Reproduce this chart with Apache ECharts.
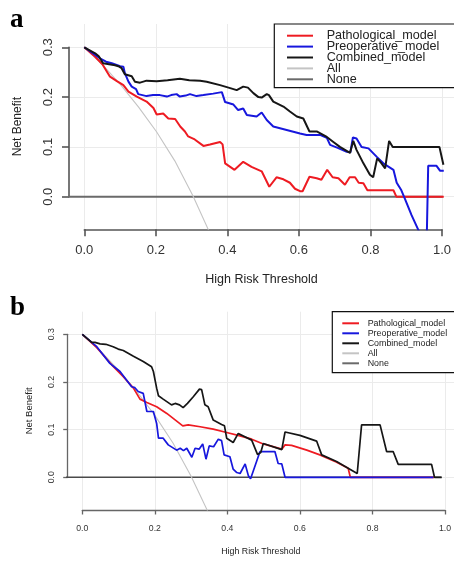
<!DOCTYPE html>
<html>
<head>
<meta charset="utf-8">
<script src="https://cdn.jsdelivr.net/npm/echarts@6/dist/echarts.min.js"></script>
<style>
html, body { margin: 0; padding: 0; background: #fff; }
#chart { width: 454px; height: 561px; }
</style>
</head>
<body>
<div id="chart"></div>
<script>
// ---- data: [threshold, net benefit] ----
var modelNames = ['Pathological_model', 'Preoperative_model', 'Combined_model', 'All', 'None'];
var xTicks = [0, 0.2, 0.4, 0.6, 0.8, 1.0];
var yTicks = [0, 0.1, 0.2, 0.3];

// panel a
var aPathological = [[0,0.3],[0.03,0.281],[0.05,0.266],[0.071,0.241],[0.09,0.232],[0.108,0.224],[0.122,0.211],[0.145,0.201],[0.172,0.191],[0.191,0.178],[0.2,0.165],[0.218,0.167],[0.232,0.157],[0.251,0.156],[0.265,0.141],[0.278,0.131],[0.287,0.121],[0.305,0.115],[0.329,0.102],[0.347,0.105],[0.375,0.110],[0.382,0.105],[0.389,0.067],[0.415,0.054],[0.439,0.070],[0.462,0.060],[0.49,0.051],[0.511,0.020],[0.531,0.039],[0.55,0.035],[0.568,0.028],[0.582,0.016],[0.596,0.011],[0.603,0.011],[0.622,0.040],[0.642,0.037],[0.655,0.034],[0.671,0.054],[0.686,0.039],[0.702,0.037],[0.72,0.024],[0.733,0.039],[0.748,0.039],[0.758,0.028],[0.771,0.027],[0.782,0.013],[0.854,0.013],[0.862,0.0],[0.993,0.0]];
var aPreoperative = [[0,0.3],[0.043,0.278],[0.06,0.271],[0.076,0.268],[0.099,0.262],[0.108,0.261],[0.112,0.248],[0.122,0.231],[0.131,0.221],[0.143,0.216],[0.149,0.206],[0.172,0.202],[0.19,0.204],[0.209,0.204],[0.228,0.201],[0.24,0.204],[0.255,0.206],[0.264,0.201],[0.28,0.203],[0.292,0.206],[0.31,0.202],[0.329,0.204],[0.356,0.207],[0.38,0.210],[0.389,0.190],[0.412,0.185],[0.425,0.174],[0.439,0.177],[0.449,0.164],[0.476,0.161],[0.49,0.169],[0.504,0.154],[0.522,0.141],[0.559,0.134],[0.596,0.127],[0.614,0.124],[0.651,0.124],[0.67,0.118],[0.679,0.104],[0.70,0.098],[0.725,0.090],[0.735,0.089],[0.742,0.119],[0.752,0.117],[0.766,0.100],[0.785,0.097],[0.808,0.080],[0.826,0.067],[0.854,0.054],[0.863,0.028],[0.875,0.014],[0.886,-0.005],[0.904,-0.037],[0.923,-0.067],[0.935,-0.09],[0.945,-0.12],[0.95,0.062],[0.973,0.062],[0.983,0.052],[0.993,0.052]];
var aCombined = [[0,0.3],[0.03,0.288],[0.04,0.282],[0.052,0.268],[0.085,0.264],[0.094,0.262],[0.103,0.258],[0.112,0.246],[0.131,0.242],[0.14,0.231],[0.154,0.229],[0.172,0.233],[0.2,0.232],[0.23,0.234],[0.264,0.237],[0.29,0.234],[0.32,0.233],[0.338,0.231],[0.375,0.224],[0.403,0.218],[0.421,0.214],[0.439,0.221],[0.452,0.219],[0.467,0.208],[0.481,0.200],[0.49,0.199],[0.504,0.206],[0.51,0.204],[0.522,0.191],[0.55,0.181],[0.568,0.171],[0.587,0.161],[0.605,0.157],[0.622,0.131],[0.642,0.131],[0.67,0.120],[0.688,0.110],[0.706,0.100],[0.734,0.088],[0.743,0.112],[0.752,0.094],[0.771,0.067],[0.789,0.044],[0.798,0.039],[0.809,0.077],[0.82,0.068],[0.831,0.057],[0.842,0.112],[0.852,0.100],[0.981,0.100],[0.992,0.064]];
var aAll = [[0,0.3],[0.05,0.265],[0.1,0.225],[0.15,0.18],[0.2,0.13],[0.25,0.072],[0.3,0.002],[0.35,-0.078]];
var aNone = [[-0.05,0],[0.99,0]];

// panel b
var bPathological = [[0,0.3],[0.04,0.272],[0.081,0.236],[0.113,0.211],[0.141,0.187],[0.159,0.164],[0.178,0.157],[0.205,0.148],[0.233,0.134],[0.255,0.121],[0.277,0.108],[0.292,0.110],[0.325,0.106],[0.361,0.101],[0.398,0.094],[0.435,0.087],[0.467,0.080],[0.499,0.070],[0.55,0.059],[0.559,0.068],[0.577,0.067],[0.619,0.057],[0.655,0.047],[0.70,0.032],[0.733,0.019],[0.739,0.0],[0.97,0.0]];
var bPreoperative = [[0,0.3],[0.04,0.274],[0.076,0.239],[0.104,0.222],[0.136,0.19],[0.145,0.188],[0.154,0.18],[0.168,0.176],[0.178,0.138],[0.196,0.138],[0.205,0.113],[0.21,0.082],[0.223,0.082],[0.237,0.068],[0.26,0.057],[0.27,0.061],[0.279,0.056],[0.288,0.061],[0.302,0.042],[0.311,0.061],[0.322,0.059],[0.332,0.07],[0.341,0.038],[0.35,0.066],[0.362,0.064],[0.375,0.080],[0.384,0.077],[0.391,0.047],[0.407,0.043],[0.416,0.017],[0.426,0.010],[0.435,0.008],[0.449,0.028],[0.458,0.003],[0.464,-0.003],[0.469,-0.002],[0.49,0.054],[0.531,0.054],[0.54,0.029],[0.55,0.028],[0.559,0.0],[0.968,0.0]];
var bCombined = [[0,0.3],[0.026,0.283],[0.035,0.283],[0.049,0.280],[0.065,0.279],[0.085,0.274],[0.099,0.269],[0.113,0.266],[0.141,0.254],[0.168,0.243],[0.191,0.232],[0.196,0.222],[0.205,0.187],[0.21,0.171],[0.223,0.164],[0.246,0.152],[0.256,0.155],[0.268,0.152],[0.278,0.146],[0.29,0.155],[0.306,0.169],[0.323,0.185],[0.329,0.184],[0.338,0.152],[0.347,0.148],[0.361,0.120],[0.384,0.111],[0.392,0.108],[0.398,0.082],[0.416,0.073],[0.43,0.092],[0.467,0.078],[0.483,0.048],[0.492,0.052],[0.499,0.071],[0.55,0.058],[0.559,0.095],[0.60,0.088],[0.646,0.076],[0.66,0.047],[0.701,0.033],[0.733,0.019],[0.758,0.008],[0.77,0.110],[0.821,0.110],[0.839,0.054],[0.857,0.054],[0.871,0.027],[0.963,0.027],[0.971,0.0],[0.991,0.0]];
var bAll = [[0,0.3],[0.05,0.265],[0.1,0.225],[0.15,0.18],[0.2,0.13],[0.25,0.072],[0.3,0.002],[0.35,-0.078]];
var bNone = [[-0.05,0],[0.99,0]];

// ---- layout of the two panels (pixels) ----
var panels = [
  { tag: 'a', tagTop: 7, x0: 84.3, x1: 446.3, y0: 196.7, y3: 47.3, axisY: 229.3, axisX: 69, top: 24, right: 454,
    tickFont: 13, xNameFont: 12.5, yNameFont: 12, tickLen: 7, xLabelMargin: 15, yLabelMargin: 14, xNameGap: 44, yNameGap: 45,
    axisColor: '#555', axisWidth: 1.6, noneColor: '#6a6a6a', noneWidth: 2, modelWidth: 2,
    legend: { left: 274.3, top: 24, bottom: 87.7, font: 12.6, rowH: 10.9, gap: -2.1, iconW: 26, textPad: 8.7, pad: [5.2, 10, 3.8, 12.7] },
    series: [aNone, aAll, aPathological, aPreoperative, aCombined] },
  { tag: 'b', tagTop: 295, x0: 82.3, x1: 445, y0: 477.3, y3: 334.3, axisY: 510, axisX: 67.7, top: 311.7, right: 454,
    tickFont: 8.7, xNameFont: 8.8, yNameFont: 9.5, tickLen: 4.5, xLabelMargin: 14, yLabelMargin: 12, xNameGap: 37, yNameGap: 33,
    axisColor: '#666', axisWidth: 1.3, noneColor: '#4a4a4a', noneWidth: 1.5, modelWidth: 1.7,
    legend: { left: 332.3, top: 311.7, bottom: 372.7, font: 8.9, rowH: 10, gap: 0, iconW: 16.7, textPad: 3.7, pad: [6.6, 10, 4.4, 10] },
    series: [bNone, bAll, bPathological, bPreoperative, bCombined] }
];

var colors = { All: '#c4c4c4', Pathological_model: '#ee1b22', Preoperative_model: '#1717dd', Combined_model: '#161616' };
var drawOrder = ['None', 'All', 'Pathological_model', 'Preoperative_model', 'Combined_model'];

var option = { animation: false, backgroundColor: '#fff', title: [], grid: [], xAxis: [], yAxis: [], legend: [], series: [], graphic: [] };

panels.forEach(function (p, i) {
  var xspan = p.x1 - p.x0;
  var ypx = (p.y0 - p.y3) / 0.3;
  var g = i * 3;

  option.title.push({ text: p.tag, left: 10, top: p.tagTop, padding: 0,
    textStyle: { fontFamily: 'Liberation Serif', fontWeight: 'bold', fontSize: 27, color: '#000' } });

  // plot region (data lives here)
  option.grid.push({ left: p.axisX, top: p.top, width: p.right - p.axisX, height: p.axisY - p.top });
  // x axis band: 0..1
  option.grid.push({ left: p.x0, top: p.top, width: xspan, height: p.axisY - p.top });
  // y axis band: 0..0.3
  option.grid.push({ left: p.axisX, top: p.y3, width: p.right - p.axisX, height: p.y0 - p.y3 });

  var hidden = { show: false };
  option.xAxis.push({
    type: 'value', gridIndex: g, min: (p.axisX - p.x0) / xspan, max: (p.right - p.x0) / xspan,
    axisLine: hidden, axisTick: hidden, axisLabel: hidden, splitLine: hidden,
    name: 'High Risk Threshold', nameLocation: 'middle', nameGap: p.xNameGap,
    nameTextStyle: { fontFamily: 'Liberation Sans', fontSize: p.xNameFont, color: '#222' }
  });
  option.yAxis.push({
    type: 'value', gridIndex: g, min: (p.y0 - p.axisY) / ypx, max: (p.y0 - p.top) / ypx,
    axisLine: hidden, axisTick: hidden, axisLabel: hidden, splitLine: hidden,
    name: 'Net Benefit', nameLocation: 'middle', nameGap: p.yNameGap,
    nameTextStyle: { fontFamily: 'Liberation Sans', fontSize: p.yNameFont, color: '#222' }
  });

  option.xAxis.push({
    type: 'value', gridIndex: g + 1, min: xTicks[0], max: xTicks[xTicks.length - 1], interval: 0.2, position: 'bottom',
    axisLine: { show: true, lineStyle: { color: p.axisColor, width: p.axisWidth } },
    axisTick: { show: true, inside: false, length: p.tickLen, lineStyle: { color: p.axisColor, width: p.axisWidth } },
    axisLabel: { show: true, margin: p.xLabelMargin, showMinLabel: true, showMaxLabel: true,
      fontFamily: 'Liberation Sans', fontSize: p.tickFont, color: '#333',
      formatter: function (v) { return v.toFixed(1); } },
    splitLine: { show: true, lineStyle: { color: '#ebebeb', width: 1 } }
  });
  option.yAxis.push({ type: 'value', gridIndex: g + 1, show: false, min: 0, max: 1 });

  option.xAxis.push({ type: 'value', gridIndex: g + 2, show: false, min: 0, max: 1 });
  option.yAxis.push({
    type: 'value', gridIndex: g + 2, min: yTicks[0], max: yTicks[yTicks.length - 1], interval: 0.1, position: 'left',
    axisLine: { show: true, lineStyle: { color: p.axisColor, width: p.axisWidth } },
    axisTick: { show: true, inside: false, length: p.tickLen, lineStyle: { color: p.axisColor, width: p.axisWidth } },
    axisLabel: { show: true, rotate: 90, margin: p.yLabelMargin, showMinLabel: true, showMaxLabel: true,
      fontFamily: 'Liberation Sans', fontSize: p.tickFont, color: '#333',
      formatter: function (v) { return v.toFixed(1); } },
    splitLine: { show: true, lineStyle: { color: '#ebebeb', width: 1 } }
  });

  drawOrder.forEach(function (name, k) {
    var isModel = k >= 2;
    var c = name === 'None' ? p.noneColor : colors[name];
    option.series.push({
      type: 'line', name: name, xAxisIndex: g, yAxisIndex: g, data: p.series[k],
      showSymbol: false, symbol: 'none', clip: true, silent: true,
      lineStyle: { color: c, width: isModel ? p.modelWidth : (name === 'None' ? p.noneWidth : 1.1) },
      itemStyle: { color: c },
      z: 2 + k
    });
  });

  // legend frame: runs off the right edge like in the figure
  var L = p.legend;
  option.graphic.push({
    type: 'rect', z: 5, silent: true,
    shape: { x: L.left, y: L.top, width: 260, height: L.bottom - L.top },
    style: { fill: '#fff', stroke: '#111', lineWidth: 1.2 }
  });
  option.legend.push({
    data: modelNames, orient: 'vertical', left: L.left, top: L.top, padding: L.pad, z: 10,
    itemGap: L.gap, itemWidth: L.iconW, itemHeight: 2, icon: 'rect', selectedMode: false,
    textStyle: { fontFamily: 'Liberation Sans', fontSize: L.font, lineHeight: L.rowH, color: '#222', padding: [0, 0, 0, L.textPad] }
  });
});

var myChart = echarts.init(document.getElementById('chart'));
myChart.setOption(option);
</script>
</body>
</html>
